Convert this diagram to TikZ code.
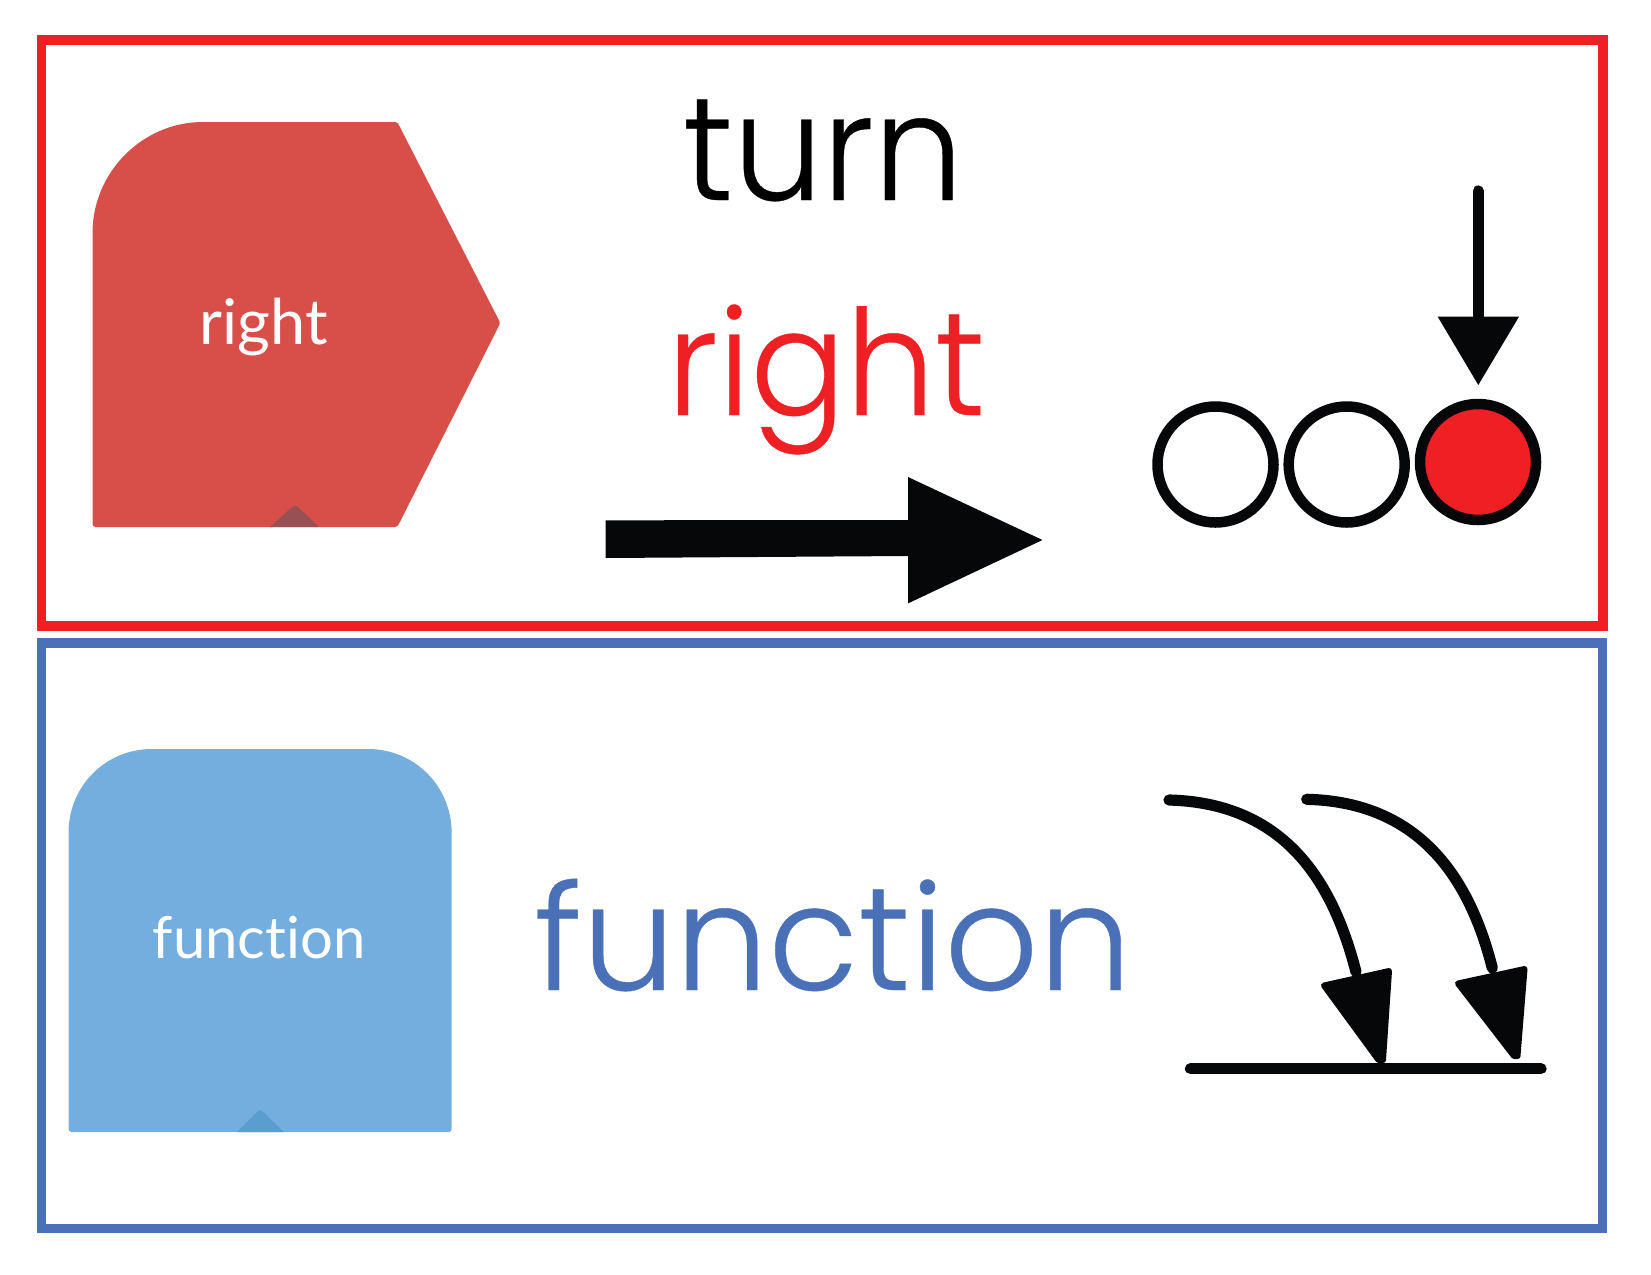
\documentclass[tikz,border=0pt]{standalone}
\usepackage{fontspec}
\setmainfont[Ligatures=NoCommon]{Lato}
\newfontfamily\geo[FakeBold=0.25,Ligatures=NoCommon]{Poppins Light}
\definecolor{fred}{HTML}{EE2024}
\definecolor{fblue}{HTML}{4A71B8}
\definecolor{blockred}{HTML}{D84F4A}
\definecolor{notchred}{HTML}{985055}
\definecolor{blockblue}{HTML}{73AEDE}
\definecolor{notchblue}{HTML}{5A9DCF}
\definecolor{ink}{HTML}{050708}
\tikzset{
  frameline/.style={line width=4.75pt,miter limit=10},
  bigtext/.style={inner sep=0pt,anchor=base,font=\geo\fontsize{73.5}{73.5}\selectfont},
  smalltext/.style={inner sep=0pt,anchor=base,text=white},
  ring/.style={circle,draw=ink,line width=5.25pt,inner sep=0pt,minimum size=58pt},
  curveline/.style={draw=ink,line width=5.6pt,line cap=round},
  headfill/.style={fill=ink,draw=ink,line width=3pt,line join=round},
  blockshape/.style={line width=3pt,line join=round},
}
\begin{document}
\begin{tikzpicture}[x=.5pt,y=-.5pt]
\useasboundingbox (0,0) rectangle (1651,1275);
% frames
\draw[frameline,fred] (41.5,40) rectangle (1603,626);
\draw[frameline,fblue] (41.5,643) rectangle (1602.5,1228.5);
% red block
\filldraw[blockshape,fill=blockred,draw=blockred] (95.5,233) .. controls (95.5,174) and (144,125) .. (203,125)
  -- (395.5,125) -- (497,323) -- (395.5,524) -- (95.5,524) -- cycle;
\fill[notchred] (270,527) -- (292,507) .. controls (294,505) and (296,505) .. (298,507) -- (319,527) -- cycle;
\node[smalltext,font=\fontsize{31.5}{31.5}\selectfont] (rs) at (264,344.5) {right};
% blue block
\filldraw[blockshape,fill=blockblue,draw=blockblue] (71.5,833) .. controls (71.5,788) and (107,752) .. (152,752)
  -- (368,752) .. controls (413,752) and (448.7,788) .. (448.7,833) -- (448.7,1129) -- (71.5,1129) -- cycle;
\fill[notchblue] (237,1132) -- (258,1111) .. controls (259,1110) and (261,1110) .. (262,1111) -- (284,1132) -- cycle;
\node[smalltext,font=\fontsize{29}{29}\selectfont] (fs) at (259,958) {function};
% big texts
\node[bigtext,xscale=.96] (turn) at (823,200) {turn};
\node[bigtext,text=fred,xscale=.96] (rightword) at (826,415) {right};
\node[bigtext,text=fblue] (funcword) at (833,990) {function};
% big arrow
\fill[ink] (605.5,520.3) -- (908,520) -- (908,477) -- (1042.5,540) -- (908,603.4) -- (908,556) -- (605.5,558) -- cycle;
% circles
\node[ring,fill=white] (c1) at (1215.5,464.5) {};
\node[ring,fill=white] (c2) at (1346.7,464.5) {};
\node[ring,fill=fred] (c3) at (1478,462) {};
% pointer
\coordinate (ptop) at (1478.3,191);
\coordinate (pbase) at (1478.3,317);
\draw[curveline] (ptop) -- (pbase);
\fill[ink] (1437.7,316.7) -- (1519,316.7) -- (1478.3,385) -- cycle;
% curved arrows
\coordinate (a1s) at (1169,800); \coordinate (a1e) at (1356,972);
\coordinate (a2s) at (1306.7,799.3); \coordinate (a2e) at (1492.3,968);
\draw[curveline] (a1s) .. controls (1285,803) and (1333,882) .. (a1e);
\draw[curveline] (a2s) .. controls (1421,802) and (1470,880) .. (a2e);
\filldraw[headfill] (1324,985.5) -- (1389,971) -- (1383,1060) -- (1378.5,1060) -- cycle;
\filldraw[headfill] (1458,983.5) -- (1524.5,969) -- (1517.5,1056) -- (1514,1056) -- cycle;
% ground line
\coordinate (gl) at (1190.5,1068.7); \coordinate (gr) at (1541,1068.7);
\draw[draw=ink,line width=5.6pt,line cap=round] (gl) -- (gr);
\end{tikzpicture}
\end{document}
